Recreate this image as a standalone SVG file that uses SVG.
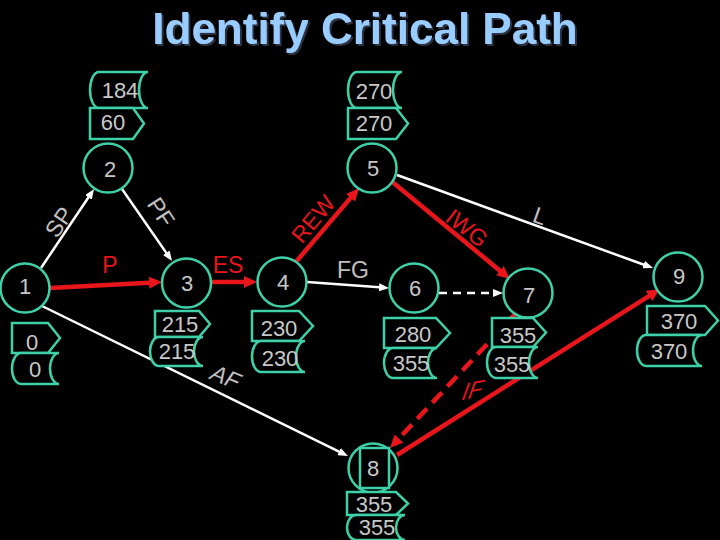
<svg xmlns="http://www.w3.org/2000/svg" width="720" height="540" viewBox="0 0 720 540">
<style>
.bg{fill:#000}
.title{font-family:"Liberation Sans",Arial,sans-serif;font-weight:bold;font-size:44px;text-anchor:middle;fill:#99CCFF}
.nc{fill:#000;stroke:#3ED0A8;stroke-width:2.5}
.bx{fill:#000;stroke:#3ED0A8;stroke-width:2.5}
.nt{font-family:"Liberation Sans",Arial,sans-serif;font-size:22px;fill:#C8C8C8;text-anchor:middle}
.lbl{font-family:"Liberation Sans",Arial,sans-serif;font-size:23px;fill:#C0C0C0;text-anchor:middle}
.rl{font-family:"Liberation Sans",Arial,sans-serif;font-size:23px;fill:#E8161B;text-anchor:middle}
.w{stroke:#FFFFFF;stroke-width:2.5;fill:none;marker-end:url(#aw)}
.r{stroke:#E8161B;stroke-width:4.5;fill:none;marker-end:url(#ar)}
.dash{stroke-dasharray:8 6}
.rdash{stroke-dasharray:14 8}
</style>
<defs>
<filter id="sh" x="-10%" y="-30%" width="120%" height="160%">
<feOffset in="SourceAlpha" dx="2" dy="2" result="o"/>
<feFlood flood-color="#2E3340"/>
<feComposite in2="o" operator="in" result="s"/>
<feMerge><feMergeNode in="s"/><feMergeNode in="SourceGraphic"/></feMerge>
</filter>
<marker id="aw" markerUnits="userSpaceOnUse" markerWidth="10" markerHeight="8" refX="4" refY="4" orient="auto"><path d="M0,0 L10,4 L0,8 Z" fill="#FFFFFF"/></marker>
<marker id="ar" markerUnits="userSpaceOnUse" markerWidth="13" markerHeight="12" refX="5" refY="6" orient="auto"><path d="M0,0 L13,6 L0,12 Z" fill="#E8161B"/></marker>
</defs>
<rect class="bg" x="0" y="0" width="720" height="540"/>
<text class="title" x="365" y="44" filter="url(#sh)">Identify Critical Path</text>

<g id="connectors">
<line class="w" x1="41" y1="268" x2="90.7" y2="194"/>
<line class="w" x1="122" y1="189" x2="168.6" y2="256.1"/>
<line class="r" x1="50" y1="288" x2="154" y2="282.4"/>
<line class="r" x1="212" y1="282" x2="249" y2="282"/>
<line class="r" x1="295" y1="263" x2="353.8" y2="194.1"/>
<line class="r" x1="390" y1="180" x2="503.8" y2="273.9"/>
<line class="w" x1="397" y1="175" x2="647.4" y2="266"/>
<line class="w" x1="307" y1="282" x2="383" y2="287.6"/>
<line class="w dash" x1="439" y1="293" x2="497" y2="293"/>
<line class="w" x1="42" y1="306" x2="342.6" y2="453.4"/>
<line class="r" x1="397" y1="455" x2="653.2" y2="293.3"/>
<line class="r rdash" x1="517" y1="312" x2="395.5" y2="442.2"/>
<text class="lbl" transform="translate(59,222) rotate(-56)" y="8">SP</text>
<text class="lbl" transform="translate(161,212) rotate(57)" y="8">PF</text>
<text class="rl" x="110" y="273">P</text>
<text class="rl" x="228" y="273">ES</text>
<text class="rl" transform="translate(313,219) rotate(-50)" y="8">REW</text>
<text class="rl" transform="translate(467,228) rotate(38)" y="8">IWG</text>
<text class="lbl" transform="translate(540,216) rotate(20)" y="8">L</text>
<text class="lbl" x="353" y="278">FG</text>
<text class="lbl" transform="translate(226,377) rotate(22) skewX(-12)" y="8">AF</text>
<text class="rl" transform="translate(473,390) rotate(-10) skewX(-30)" y="8">IF</text>
</g>

<g id="node1">
<circle class="nc" cx="25" cy="288" r="24.5"/>
<text class="nt" x="25" y="294">1</text>
<path class="bx" d="M12 323 H48 L60 338 L48 353 H12 Z"/>
<text class="nt" x="32" y="350">0</text>
<path class="bx" d="M21 353 H59 A9 15.5 0 0 0 59 384 H21 A9 15.5 0 0 1 21 353 Z"/>
<text class="nt" x="35" y="377">0</text>
</g>

<g id="node2">
<path class="bx" d="M99 72 H148 A9 18 0 0 0 148 108 H99 A9 18 0 0 1 99 72 Z"/>
<text class="nt" x="120" y="98">184</text>
<path class="bx" d="M90 108 H133 L144 123.5 L133 139 H90 Z"/>
<text class="nt" x="113" y="130">60</text>
<circle class="nc" cx="108" cy="168" r="24.5"/>
<text class="nt" x="110" y="177">2</text>
</g>

<g id="node3">
<circle class="nc" cx="186.5" cy="283" r="24.5"/>
<text class="nt" x="187" y="291">3</text>
<path class="bx" d="M155 311 H199 L210 324 L199 337 H155 Z"/>
<text class="nt" x="180" y="332">215</text>
<path class="bx" d="M159 337 H203 A9 14.5 0 0 0 203 366 H159 A9 14.5 0 0 1 159 337 Z"/>
<text class="nt" x="177" y="359">215</text>
</g>

<g id="node4">
<circle class="nc" cx="282" cy="282" r="24.5"/>
<text class="nt" x="283" y="290">4</text>
<path class="bx" d="M252 311 H299 L313 326 L299 341 H252 Z"/>
<text class="nt" x="279" y="336">230</text>
<path class="bx" d="M261 341 H305 A9 15.5 0 0 0 305 372 H261 A9 15.5 0 0 1 261 341 Z"/>
<text class="nt" x="280" y="366">230</text>
</g>

<g id="node5">
<path class="bx" d="M357 72 H402 A9 18 0 0 0 402 108 H357 A9 18 0 0 1 357 72 Z"/>
<text class="nt" x="374" y="99">270</text>
<path class="bx" d="M348 108 H396 L408 123.5 L396 139 H348 Z"/>
<text class="nt" x="374" y="131">270</text>
<circle class="nc" cx="372" cy="168" r="24.5"/>
<text class="nt" x="373" y="176">5</text>
</g>

<g id="node6">
<circle class="nc" cx="414" cy="288" r="24.5"/>
<text class="nt" x="415" y="296">6</text>
<path class="bx" d="M384 318 H436 L450 333 L436 348 H384 Z"/>
<text class="nt" x="413" y="342">280</text>
<path class="bx" d="M393 348 H437 A9 15 0 0 0 437 378 H393 A9 15 0 0 1 393 348 Z"/>
<text class="nt" x="411" y="371">355</text>
</g>

<g id="node7">
<circle class="nc" cx="528" cy="293" r="24.5"/>
<text class="nt" x="529" y="303">7</text>
<path class="bx" d="M492 318 H533 L546 332.5 L533 347 H492 Z"/>
<text class="nt" x="518" y="343">355</text>
<path class="bx" d="M496 347 H538 A9 15.5 0 0 0 538 378 H496 A9 15.5 0 0 1 496 347 Z"/>
<text class="nt" x="512" y="372">355</text>
</g>

<g id="node8">
<circle class="nc" cx="373" cy="468" r="24.5"/>
<rect class="bx" x="360" y="448" width="29" height="40" fill="none"/>
<text class="nt" x="373" y="476">8</text>
<path class="bx" d="M347 492 H396 L408 503.5 L396 515 H347 Z"/>
<text class="nt" x="374" y="512">355</text>
<path class="bx" d="M356 515 H405 A9 12.5 0 0 0 405 540 H356 A9 12.5 0 0 1 356 515 Z"/>
<text class="nt" x="377" y="535">355</text>
</g>

<g id="node9">
<circle class="nc" cx="678" cy="277" r="24.5"/>
<text class="nt" x="679" y="284">9</text>
<path class="bx" d="M647 306 H705 L718 320.5 L705 335 H647 Z"/>
<text class="nt" x="679" y="329">370</text>
<path class="bx" d="M646 335 H702 A9 15.5 0 0 0 702 366 H646 A9 15.5 0 0 1 646 335 Z"/>
<text class="nt" x="669" y="359">370</text>
</g>
</svg>
